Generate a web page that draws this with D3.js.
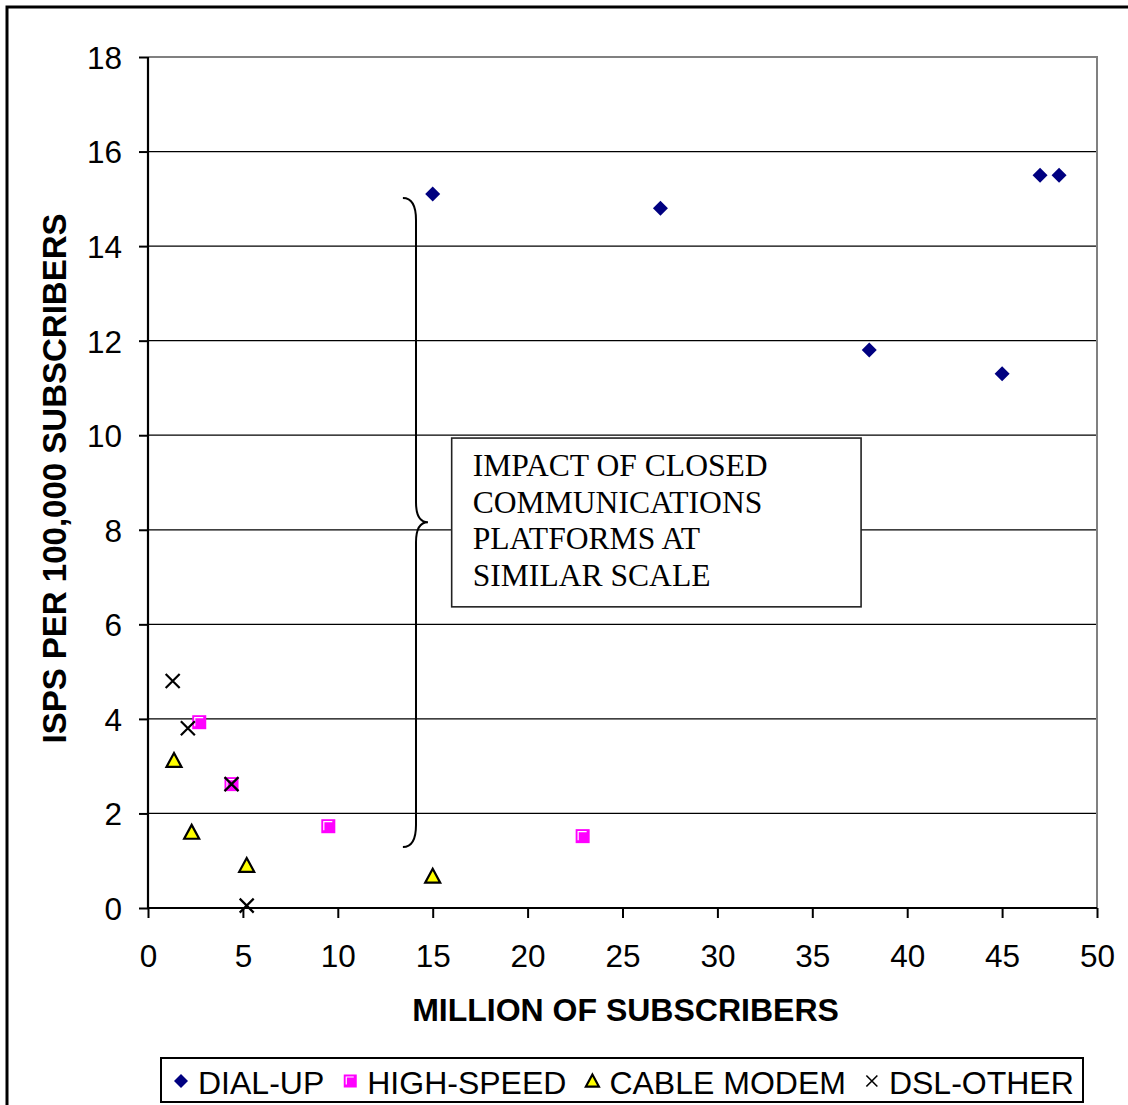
<!DOCTYPE html>
<html><head><meta charset="utf-8">
<script src="https://cdn.jsdelivr.net/npm/d3@7"></script>
<style>
html,body{margin:0;padding:0;background:#fff;}
svg{display:block;}
</style></head>
<body>
<svg id="chart" width="1128" height="1105"></svg>
<script>
// ---- data ----
const xTicks = [0,5,10,15,20,25,30,35,40,45,50];
const yTicks = [0,2,4,6,8,10,12,14,16,18];
const dialUpX = [15, 27, 38, 45, 47, 48];
const dialUpY = [15.1, 14.8, 11.8, 11.3, 15.5, 15.5];
const highSpeedX = [2.7, 4.4, 9.5, 22.9];
const highSpeedY = [3.93, 2.62, 1.73, 1.52];
const cableX = [1.37, 2.3, 5.2, 15.0];
const cableY = [3.12, 1.6, 0.9, 0.67];
const dslX = [1.3, 2.1, 4.4, 5.2];
const dslY = [4.8, 3.8, 2.62, 0.05];
const seriesNames = ["DIAL-UP", "HIGH-SPEED", "CABLE MODEM", "DSL-OTHER"];
const xTitle = "MILLION OF SUBSCRIBERS";
const yTitle = "ISPS PER 100,000 SUBSCRIBERS";
const noteLines = ["IMPACT OF CLOSED", "COMMUNICATIONS", "PLATFORMS AT", "SIMILAR SCALE"];
// annotation geometry in data units
const noteBoxX = [16.0, 37.57];
const noteBoxY = [9.94, 6.37];
const braceX = [13.43, 14.12, 14.75];
const braceY = [15.02, 8.16, 1.29];

(function () {
const svg = d3.select("#chart");
const W = 1128, H = 1105;
const pL = 148, pR = 1097, pT = 57, pB = 908;

svg.append("rect").attr("width", W).attr("height", H).attr("fill", "#fff");
// outer chart border (extends past the picture on right/bottom)
svg.append("rect").attr("x", 7).attr("y", 7).attr("width", W + 10).attr("height", H + 10)
  .attr("fill", "none").attr("stroke", "#000").attr("stroke-width", 3);

const x = d3.scaleLinear().domain([0, 50]).range([pL, pR]);
const y = d3.scaleLinear().domain([0, 18]).range([pB, pT]);

const FONT = "Arial, 'Liberation Sans', sans-serif";

// gridlines
svg.append("g").selectAll("line").data(yTicks.filter(t => t > 0 && t < 18)).join("line")
  .attr("x1", pL).attr("x2", pR).attr("y1", d => y(d)).attr("y2", d => y(d))
  .attr("stroke", "#000").attr("stroke-width", 1.2);

// plot frame top/right (gray)
svg.append("path")
  .attr("d", `M${pL},${y(18)}H${x(50)}V${y(0)}`)
  .attr("fill", "none").attr("stroke", "#808080").attr("stroke-width", 2);

// axes
const yAxis = svg.append("g").attr("transform", `translate(${pL},0)`)
  .call(d3.axisLeft(y).tickValues(yTicks).tickSize(9).tickPadding(17).tickFormat(d3.format("d")));
const xAxis = svg.append("g").attr("transform", `translate(0,${pB})`)
  .call(d3.axisBottom(x).tickValues(xTicks).tickSize(10).tickPadding(27).tickFormat(d3.format("d")));
[yAxis, xAxis].forEach(a => {
  a.select(".domain").attr("stroke", "#000").attr("stroke-width", 2.2);
  a.selectAll(".tick line").attr("stroke", "#000").attr("stroke-width", 2);
  a.selectAll(".tick text").attr("fill", "#000").style("font-family", FONT).style("font-size", "31.5px");
});
yAxis.select(".domain").attr("d", `M0,${y(18)}V${y(0)}`);
xAxis.select(".domain").attr("d", `M${x(0)},0H${x(50)}`);
yAxis.selectAll(".tick text").attr("dy", "0.36em");

// axis titles
svg.append("text").attr("x", (pL + pR) / 2 + 3).attr("y", 1021)
  .attr("text-anchor", "middle").style("font-family", FONT).style("font-size", "32px")
  .style("font-weight", "bold").text(xTitle);
svg.append("text").attr("transform", `translate(66,${(pT + pB) / 2 - 4}) rotate(-90)`)
  .attr("text-anchor", "middle").style("font-family", FONT).style("font-size", "33px")
  .style("font-weight", "bold").text(yTitle);

// brace annotation
const bx0 = x(braceX[0]), bx1 = x(braceX[1]), bx2 = x(braceX[2]);
const by0 = y(braceY[0]), bym = y(braceY[1]), by1 = y(braceY[2]);
const bracePath = `M${bx0},${by0} Q${bx1},${by0} ${bx1},${by0 + 22}
  L${bx1},${bym - 20} Q${bx1},${bym} ${bx2},${bym}
  Q${bx1},${bym} ${bx1},${bym + 20}
  L${bx1},${by1 - 22} Q${bx1},${by1} ${bx0},${by1}`;
svg.append("path").attr("d", bracePath).attr("fill", "none")
  .attr("stroke", "#000").attr("stroke-width", 2);

// note box
svg.append("rect").attr("x", x(noteBoxX[0])).attr("y", y(noteBoxY[0]))
  .attr("width", x(noteBoxX[1]) - x(noteBoxX[0])).attr("height", y(noteBoxY[1]) - y(noteBoxY[0]))
  .attr("fill", "#fff").attr("stroke", "#222").attr("stroke-width", 1.6);
svg.append("g").selectAll("text").data(noteLines).join("text")
  .attr("x", x(noteBoxX[0]) + 21).attr("y", (d, i) => y(noteBoxY[0]) + 38 + i * 36.7)
  .style("font-family", "'Times New Roman', 'Liberation Serif', serif").style("font-size", "31.6px")
  .attr("fill", "#000").text(d => d);

// marker drawers
function diamond(g, cx, cy, s) {
  g.append("path").attr("d", `M${cx},${cy - s}L${cx + s},${cy}L${cx},${cy + s}L${cx - s},${cy}Z`)
    .attr("fill", "#000080");
}
function square(g, cx, cy, s) {
  g.append("rect").attr("x", cx - s).attr("y", cy - s).attr("width", 2 * s).attr("height", 2 * s)
    .attr("fill", "#FF00FF");
  g.append("path").attr("d", `M${cx - s + 2.5},${cy + s - 3}V${cy - s + 2.5}H${cx + s - 3}`)
    .attr("fill", "none").attr("stroke", "#fff").attr("stroke-width", 1.2);
}
function triangle(g, cx, cy, s) {
  g.append("path").attr("d", `M${cx},${cy - s}L${cx + s},${cy + s * 0.85}L${cx - s},${cy + s * 0.85}Z`)
    .attr("fill", "#FFFF00").attr("stroke", "#000").attr("stroke-width", 2.2).attr("stroke-linejoin", "miter");
}
function cross(g, cx, cy, s, sw) {
  g.append("path").attr("d", `M${cx - s},${cy - s}L${cx + s},${cy + s}M${cx + s},${cy - s}L${cx - s},${cy + s}`)
    .attr("stroke", "#000").attr("stroke-width", sw).attr("fill", "none");
}

const marks = svg.append("g");
highSpeedX.forEach((v, i) => square(marks, x(v), y(highSpeedY[i]), 7));
cableX.forEach((v, i) => triangle(marks, x(v), y(cableY[i]), 7.5));
dslX.forEach((v, i) => cross(marks, x(v), y(dslY[i]), 7, 2.2));
dialUpX.forEach((v, i) => diamond(marks, x(v), y(dialUpY[i]), 7.5));

// legend
const leg = svg.append("g");
leg.append("rect").attr("x", 161).attr("y", 1058).attr("width", 922).attr("height", 44)
  .attr("fill", "#fff").attr("stroke", "#000").attr("stroke-width", 2);
const drawers = [
  (g, cx, cy) => diamond(g, cx, cy, 7),
  (g, cx, cy) => square(g, cx, cy, 6.5),
  (g, cx, cy) => triangle(g, cx, cy, 6.5),
  (g, cx, cy) => cross(g, cx, cy, 5.5, 1.6)
];
let cursor = 181;
const legY = 1081;
seriesNames.forEach((name, i) => {
  drawers[i](leg, cursor, legY);
  const t = leg.append("text").attr("x", cursor + 17).attr("y", 1093.5)
    .style("font-family", FONT).style("font-size", "32px").attr("fill", "#000").text(name);
  const w = t.node().getComputedTextLength();
  cursor = cursor + 17 + w + 26;
});
})();
</script>
</body></html>
